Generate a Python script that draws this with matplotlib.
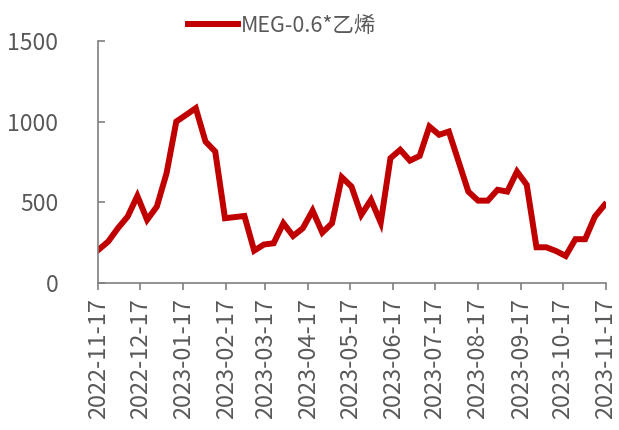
import matplotlib
matplotlib.use("Agg")
import matplotlib.pyplot as plt
import matplotlib.dates as mdates
import pandas as pd

plt.rcParams['font.family'] = ['Noto Sans CJK SC', 'DejaVu Sans']

# Weekly spread series
start_date = "2022-11-17"
n_weeks = 53
spread = [205, 256, 339, 411, 539, 391, 473, 680, 1000, 1041,
          1083, 876, 814, 401, 408, 415, 200, 238, 246, 370,
          291, 339, 448, 312, 370, 655, 597, 422, 515, 374,
          773, 825, 758, 787, 969, 918, 938, 752, 566, 510,
          510, 577, 566, 690, 608, 221, 221, 198, 167, 271,
          271, 411, 484]
series_name = "MEG-0.6*乙烯"
tick_dates = ["2022-11-17", "2022-12-17", "2023-01-17", "2023-02-17",
              "2023-03-17", "2023-04-17", "2023-05-17", "2023-06-17",
              "2023-07-17", "2023-08-17", "2023-09-17", "2023-10-17",
              "2023-11-17"]
y_ticks = [0, 500, 1000, 1500]

dates = pd.date_range(start_date, periods=n_weeks, freq="7D")
ticks = pd.to_datetime(tick_dates)

text_color = "#595959"
axis_color = "#7f7f7f"

fig = plt.figure(figsize=(6.19, 4.30), dpi=100)
ax = fig.add_axes([0.159, 0.342, 0.82, 0.563])

ax.plot(dates, spread, color="#C00000", linewidth=4.3,
        solid_joinstyle="miter", label=series_name)

ax.set_xlim(ticks[0], ticks[-1])
ax.set_ylim(0, 1500)
ax.set_yticks(y_ticks)
ax.set_xticks(ticks)
ax.xaxis.set_major_formatter(mdates.DateFormatter("%Y-%m-%d"))

for side in ("top", "right"):
    ax.spines[side].set_visible(False)
for side in ("left", "bottom"):
    ax.spines[side].set_color(axis_color)
    ax.spines[side].set_linewidth(1.2)

ax.tick_params(axis="x", direction="out", length=5, width=1.2,
               color=axis_color, labelcolor=text_color, labelsize=17,
               rotation=90, pad=6)
ax.tick_params(axis="y", direction="in", length=5, width=1.2,
               color=axis_color, labelcolor=text_color, labelsize=16.5,
               pad=29)
for lbl in ax.get_yticklabels():
    lbl.set_horizontalalignment("right")

leg = ax.legend(loc="center", bbox_to_anchor=(0.362, 1.062), frameon=False,
                fontsize=15.5, handlelength=2.3, handletextpad=0.15,
                borderaxespad=0.0)
for t in leg.get_texts():
    t.set_color(text_color)

fig.savefig("out.png", dpi=100)
